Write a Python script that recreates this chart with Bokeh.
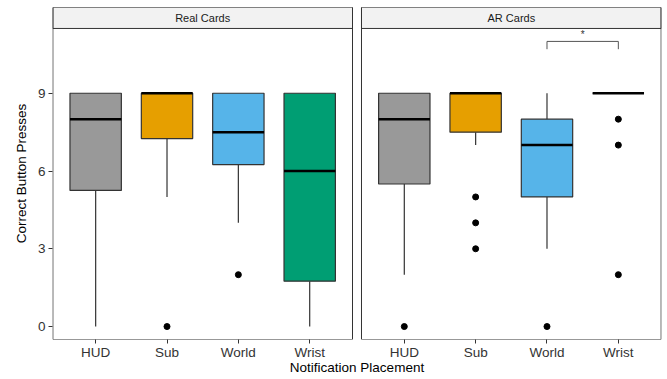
from bokeh.plotting import figure
from bokeh.models import FixedTicker, Range1d
from bokeh.core.properties import value
from bokeh.embed import file_html
from bokeh.resources import INLINE

# ---- data ----
categories = ["HUD", "Sub", "World", "Wrist"]
panels = ["Real Cards", "AR Cards"]
colors = ["#999999", "#E69F00", "#56B4E9", "#009E73"]

real_lower = [0, 5, 4, 0]
real_q1 = [5.25, 7.25, 6.25, 1.75]
real_median = [8, 9, 7.5, 6]
real_q3 = [9, 9, 9, 9]
real_upper = [9, 9, 9, 9]
real_out_cat = ["Sub", "World"]
real_out_val = [0, 2]

ar_lower = [2, 7, 3, 9]
ar_q1 = [5.5, 7.5, 5, 9]
ar_median = [8, 9, 7, 9]
ar_q3 = [9, 9, 8, 9]
ar_upper = [9, 9, 9, 9]
ar_out_cat = ["HUD", "Sub", "Sub", "Sub", "World", "Wrist", "Wrist", "Wrist"]
ar_out_val = [0, 5, 4, 3, 0, 8, 7, 2]

sig_pair = ["World", "Wrist"]  # AR Cards comparison
sig_label = "*"
y_ticks = [0, 3, 6, 9]

# ---- layout helpers ----
FRAME_W = 609
FRAME_H = 332
PAD = 0.6
GAP_PX = 9
n = len(categories)
panel_units = (n - 1) + 2 * PAD
gap = GAP_PX * 2 * panel_units / (FRAME_W - GAP_PX)
offsets = [0.0, panel_units + gap]


def xpos(panel_idx, cat):
    return offsets[panel_idx] + PAD + categories.index(cat)


y_lo, y_panel_top = -0.5, 11.5
px_per_unit = 25.9
y_hi = y_lo + FRAME_H / px_per_unit

x_lo = 0.0 - 0.005
x_hi = offsets[1] + panel_units + 0.005

FONT = "Liberation Sans"
p = figure(width=667, height=379, frame_width=FRAME_W, frame_height=FRAME_H,
           x_range=Range1d(x_lo, x_hi), y_range=Range1d(y_lo, y_hi - 0.01),
           output_backend="svg", toolbar_location=None,
           min_border_left=52, min_border_right=6, min_border_top=7, min_border_bottom=40)
p.outline_line_color = None
p.xgrid.visible = False
p.ygrid.visible = False
p.background_fill_color = "white"
p.border_fill_color = "white"

BW = 0.72
datasets = [
    (real_lower, real_q1, real_median, real_q3, real_upper, real_out_cat, real_out_val),
    (ar_lower, ar_q1, ar_median, ar_q3, ar_upper, ar_out_cat, ar_out_val),
]

for pi, (lo, q1, med, q3, up, oc, ov) in enumerate(datasets):
    xs = [xpos(pi, c) for c in categories]
    # whiskers
    p.segment(x0=xs, y0=q1, x1=xs, y1=lo, line_color="#333333", line_width=1.2)
    p.segment(x0=xs, y0=q3, x1=xs, y1=up, line_color="#333333", line_width=1.2)
    # boxes
    p.vbar(x=xs, width=BW, bottom=q1, top=q3, fill_color=colors,
           line_color="#333333", line_width=1.2)
    # medians
    p.segment(x0=[x - BW / 2 for x in xs], y0=med, x1=[x + BW / 2 for x in xs], y1=med,
              line_color="black", line_width=2.5)
    # outliers
    p.scatter(x=[xpos(pi, c) for c in oc], y=ov, size=6, color="black")

    # panel border & strip
    left = offsets[pi]
    right = offsets[pi] + panel_units
    p.quad(left=[left], right=[right], bottom=[y_panel_top], top=[y_hi],
           fill_color="#F2F2F2", line_color="#333333", line_width=1)
    p.quad(left=[left], right=[right], bottom=[y_lo], top=[y_hi],
           fill_color=None, line_color="#333333", line_width=1)
    p.text(x=[(left + right) / 2], y=[(y_panel_top + y_hi) / 2], text=[panels[pi]],
           text_font=value(FONT), text_font_size="11px", text_color="#1A1A1A",
           text_align="center", text_baseline="middle")

# significance bracket (AR Cards)
bx0, bx1 = xpos(1, sig_pair[0]), xpos(1, sig_pair[1])
p.line(x=[bx0, bx0, bx1, bx1], y=[10.7, 11.0, 11.0, 10.7], line_color="#555555", line_width=1)
p.text(x=[(bx0 + bx1) / 2], y=[11.05], text=[sig_label], text_font=value(FONT),
       text_font_size="10px", text_color="#333333", text_align="center", text_baseline="bottom")

# axes
tick_pos = [xpos(pi, c) for pi in range(2) for c in categories]
p.xaxis.ticker = FixedTicker(ticks=tick_pos)
p.xaxis.major_label_overrides = {t: categories[i % n] for i, t in enumerate(tick_pos)}
p.yaxis.ticker = FixedTicker(ticks=y_ticks)
for ax in (p.xaxis, p.yaxis):
    ax.axis_line_color = None
    ax.major_tick_out = 4
    ax.major_tick_in = 0
    ax.major_tick_line_color = "#333333"
    ax.minor_tick_line_color = None
    ax.major_label_text_font = FONT
    ax.major_label_text_font_size = "13.5px"
    ax.major_label_text_color = "#333333"
    ax.axis_label_text_font = FONT
    ax.axis_label_text_font_size = "13.5px"
    ax.axis_label_text_font_style = "normal"
    ax.axis_label_text_color = "black"
p.xaxis.axis_label = "Notification Placement"
p.yaxis.axis_label = "Correct Button Presses"
p.xaxis.major_label_standoff = 1
p.xaxis.axis_label_standoff = -3
p.yaxis.major_label_standoff = 3
p.yaxis.axis_label_standoff = 6

open("out.html", "w").write(file_html(p, INLINE))
